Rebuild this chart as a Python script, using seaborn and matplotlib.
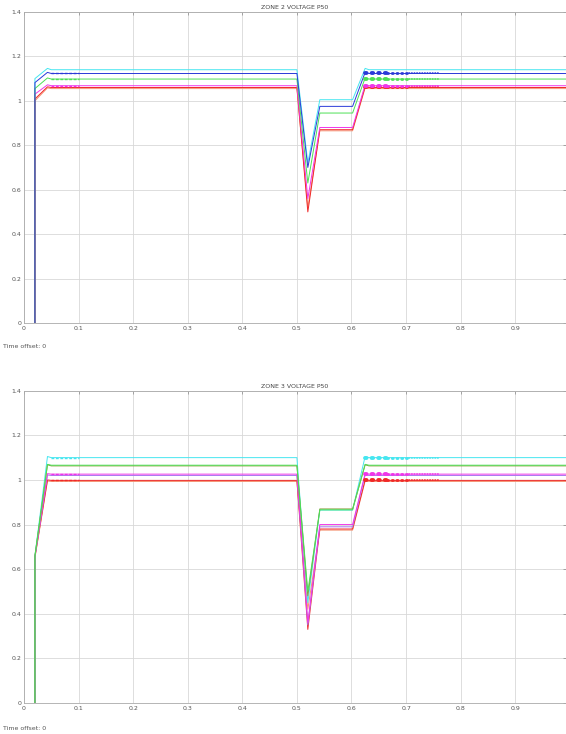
import numpy as np
import pandas as pd
import matplotlib
matplotlib.use("Agg")
import matplotlib.pyplot as plt
import seaborn as sns

# Breakpoints of the scope traces (seconds)
t_knots = [0.02, 0.02, 0.043, 0.05, 0.5, 0.52, 0.542, 0.602, 0.625, 0.632, 0.993]

# Zone 2 bus voltages (p.u.) at the breakpoints
z2_series = ["cyan", "orange", "red", "magenta", "green", "blue"]
z2_cyan    = [0, 1.100, 1.146, 1.140, 1.140, 0.720, 1.005, 1.005, 1.146, 1.140, 1.140]
z2_orange  = [0, 1.000, 1.058, 1.055, 1.055, 0.520, 0.865, 0.865, 1.058, 1.055, 1.055]
z2_red     = [0, 1.008, 1.063, 1.060, 1.060, 0.500, 0.870, 0.870, 1.063, 1.060, 1.060]
z2_magenta = [0, 1.030, 1.072, 1.068, 1.068, 0.560, 0.880, 0.880, 1.072, 1.068, 1.068]
z2_green   = [0, 1.055, 1.103, 1.098, 1.098, 0.630, 0.945, 0.945, 1.103, 1.098, 1.098]
z2_blue    = [0, 1.082, 1.128, 1.123, 1.123, 0.700, 0.975, 0.975, 1.128, 1.123, 1.123]

# Zone 3 bus voltages (p.u.) at the breakpoints
z3_series = ["orange", "red", "violet", "magenta", "cyan", "olive", "green"]
z3_orange  = [0, 0.650, 0.995, 0.993, 0.993, 0.420, 0.775, 0.775, 0.995, 0.993, 0.993]
z3_red     = [0, 0.655, 1.000, 0.998, 0.998, 0.330, 0.780, 0.780, 1.000, 0.998, 0.998]
z3_violet  = [0, 0.655, 1.022, 1.020, 1.020, 0.350, 0.790, 0.790, 1.022, 1.020, 1.020]
z3_magenta = [0, 0.656, 1.028, 1.026, 1.026, 0.360, 0.800, 0.800, 1.028, 1.026, 1.026]
z3_cyan    = [0, 0.660, 1.105, 1.100, 1.100, 0.450, 0.865, 0.865, 1.105, 1.100, 1.100]
z3_olive   = [0, 0.658, 1.068, 1.063, 1.063, 0.480, 0.870, 0.870, 1.068, 1.063, 1.063]
z3_green   = [0, 0.660, 1.070, 1.066, 1.066, 0.500, 0.866, 0.866, 1.070, 1.066, 1.066]

x_ticks = [0, 0.1, 0.2, 0.3, 0.4, 0.5, 0.6, 0.7, 0.8, 0.9]
x_tick_labels = ["0", "0.1", "0.2", "0.3", "0.4", "0.5", "0.6", "0.7", "0.8", "0.9"]
y_ticks = [0, 0.2, 0.4, 0.6, 0.8, 1.0, 1.2, 1.4]
y_tick_labels = ["0", "0.2", "0.4", "0.6", "0.8", "1", "1.2", "1.4"]

colors = {
    "cyan": "#45e6f0",
    "blue": "#2a3ad8",
    "green": "#4ce055",
    "olive": "#8a9a3a",
    "magenta": "#f035e8",
    "violet": "#a878f0",
    "red": "#f02828",
    "orange": "#f59575",
}

# Where the scope shows dense sample markers on the settled traces
dense_spans = [(0.625, 0.665, 2.8), (0.665, 0.705, 2.0), (0.705, 0.76, 1.1)]
init_spans = [(0.05, 0.10, 1.0)]

sns.set_style("white")
plt.rcParams["font.family"] = ["DejaVu Sans"]

fig = plt.figure(figsize=(5.66, 7.34), dpi=100)
ax_top = fig.add_axes([0.0424, 0.560, 0.9576, 0.4237])
ax_bot = fig.add_axes([0.0424, 0.0422, 0.9576, 0.4255])


def to_frame(names, arrays):
    rows = []
    for name, vals in zip(names, arrays):
        for t, v in zip(t_knots, vals):
            rows.append({"t": t, "v": v, "series": name})
    return pd.DataFrame(rows)


def draw_panel(ax, names, arrays, title, dense_names, init_names):
    df = to_frame(names, arrays)
    pal = {n: colors[n] for n in names}
    sns.lineplot(data=df, x="t", y="v", hue="series", hue_order=names,
                 palette=pal, estimator=None, sort=False, lw=0.7,
                 legend=False, ax=ax)
    # heavy sample-marker overlay on the settled part of some traces
    for name, vals in zip(names, arrays):
        if name in dense_names:
            level = vals[-1]
            for a, b, lw in dense_spans:
                ax.plot([a, b], [level, level], color=colors[name],
                        lw=lw, ls=(0, (0.4, 1.3)), dash_capstyle="round")
        if name in init_names:
            level = vals[3]
            for a, b, lw in init_spans:
                ax.plot([a, b], [level, level], color=colors[name],
                        lw=lw, ls=(0, (2, 1.2)))
    ax.set_xlim(0, 0.993)
    ax.set_ylim(0, 1.4)
    ax.set_xticks(x_ticks)
    ax.set_xticklabels(x_tick_labels)
    ax.set_yticks(y_ticks)
    ax.set_yticklabels(y_tick_labels)
    ax.set_xlabel("")
    ax.set_ylabel("")
    ax.grid(True, color="#d8d8d8", lw=0.6)
    ax.set_axisbelow(True)
    ax.tick_params(axis="both", direction="in", length=2.5, width=0.5,
                   labelsize=4.5, labelcolor="#555555", color="#888888",
                   top=True, right=True, pad=2)
    for side in ["left", "bottom", "top", "right"]:
        ax.spines[side].set_color("#aaaaaa")
        ax.spines[side].set_linewidth(0.6)
    ax.set_title(title, fontsize=4.5, color="#444444", pad=2)


draw_panel(ax_top, z2_series,
           [z2_cyan, z2_orange, z2_red, z2_magenta, z2_green, z2_blue],
           "ZONE 2 VOLTAGE P50",
           dense_names={"blue", "green", "magenta", "red"},
           init_names={"blue", "magenta", "green"})
draw_panel(ax_bot, z3_series,
           [z3_orange, z3_red, z3_violet, z3_magenta, z3_cyan, z3_olive, z3_green],
           "ZONE 3 VOLTAGE P50",
           dense_names={"cyan", "magenta", "red"},
           init_names={"cyan", "magenta", "red"})

fig.text(0.005, 1 - 346 / 734, "Time offset: 0", fontsize=4.5,
         color="#555555", va="center")
fig.text(0.005, 1 - 728 / 734, "Time offset: 0", fontsize=4.5,
         color="#555555", va="center")

fig.savefig("out.png", dpi=100)
